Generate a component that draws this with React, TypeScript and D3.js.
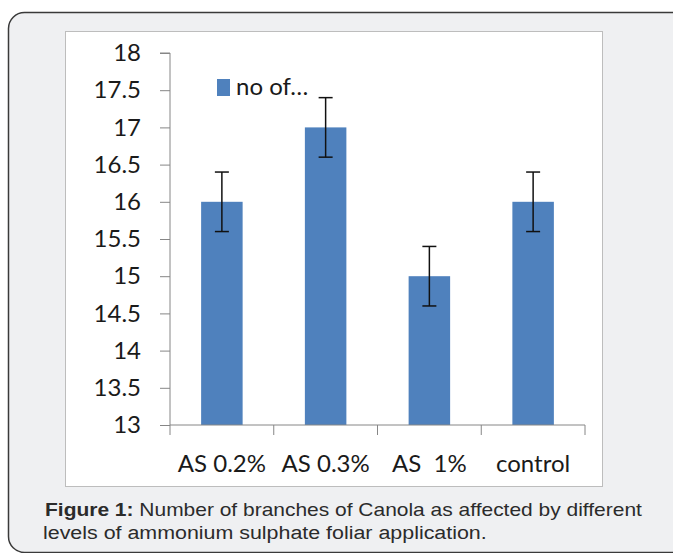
import { useEffect, useRef } from 'react';
import * as d3 from 'd3';

const WIDTH = 673;
const HEIGHT = 553;

const categories = ['AS 0.2%', 'AS 0.3%', 'AS  1%', 'control'];
const values = [16, 17, 15, 16];
const errors = [0.4, 0.4, 0.4, 0.4];
const yTicks = [13, 13.5, 14, 14.5, 15, 15.5, 16, 16.5, 17, 17.5, 18];
const seriesName = 'no of…';
const captionBold = 'Figure 1:';
const captionLine1 = ' Number of branches of Canola as affected by different';
const captionLine2 = 'levels of ammonium sulphate foliar application.';

const PLOT = { left: 170, right: 585, top: 53, bottom: 425 };
const FONT = 'Lato, "Open Sans", sans-serif';
const BAR = '#4f81bd';
const AXIS = '#868686';

export default function App() {
  const svgRef = useRef<SVGSVGElement>(null);

  useEffect(() => {
    const svg = d3.select(svgRef.current);
    svg.selectAll('*').remove();

    // outer panel and white chart box
    svg.append('rect')
      .attr('x', 8.5).attr('y', 12.5)
      .attr('width', 680).attr('height', 540)
      .attr('rx', 16)
      .attr('fill', '#eff0f2')
      .attr('stroke', '#3a3a3a')
      .attr('stroke-width', 1.5);

    svg.append('rect')
      .attr('x', 65.5).attr('y', 31.5)
      .attr('width', 537).attr('height', 455)
      .attr('fill', '#fff')
      .attr('stroke', '#bdbdbd');

    const x = d3.scaleBand()
      .domain(categories)
      .range([PLOT.left, PLOT.right])
      .paddingInner(0.6)
      .paddingOuter(0.3);

    const band = d3.scaleBand()
      .domain(categories)
      .range([PLOT.left, PLOT.right]);

    const y = d3.scaleLinear()
      .domain([13, 18])
      .range([PLOT.bottom, PLOT.top]);

    // y axis
    const yAxis = svg.append('g')
      .attr('transform', `translate(${PLOT.left},0)`)
      .call(d3.axisLeft(y).tickValues(yTicks).tickSize(10).tickPadding(19).tickFormat(d3.format('')));
    yAxis.selectAll('line').attr('stroke', AXIS);
    yAxis.select('.domain').attr('stroke', AXIS).attr('d', `M-10,${PLOT.top}H0V${PLOT.bottom}`);
    yAxis.selectAll('text')
      .attr('font-family', FONT)
      .attr('font-size', 24)
      .attr('fill', '#1a1a1a');

    // bars
    svg.append('g')
      .selectAll('rect')
      .data(values)
      .join('rect')
      .attr('x', (_, i) => x(categories[i]) || 0)
      .attr('y', (d) => y(d))
      .attr('width', x.bandwidth())
      .attr('height', (d) => y(13) - y(d))
      .attr('fill', BAR);

    // x axis
    const xAxisG = svg.append('g').attr('transform', `translate(0,${PLOT.bottom})`);
    xAxisG.append('line')
      .attr('x1', PLOT.left).attr('x2', PLOT.right)
      .attr('stroke', AXIS);
    const edges = categories.map((c) => band(c) || 0).concat([PLOT.right]);
    xAxisG.selectAll('line.tick')
      .data(edges)
      .join('line')
      .attr('class', 'tick')
      .attr('x1', (d) => d).attr('x2', (d) => d)
      .attr('y1', 0).attr('y2', 10)
      .attr('stroke', AXIS);
    xAxisG.selectAll('text')
      .data(categories)
      .join('text')
      .attr('x', (d) => (band(d) || 0) + band.bandwidth() / 2)
      .attr('y', 47)
      .attr('text-anchor', 'middle')
      .attr('font-family', FONT)
      .attr('font-size', 24)
      .attr('fill', '#1a1a1a')
      .style('white-space', 'pre')
      .text((d) => d);

    // error bars
    const err = svg.append('g').attr('stroke', '#111').attr('stroke-width', 1.5);
    values.forEach((v, i) => {
      const cx = (x(categories[i]) || 0) + x.bandwidth() / 2;
      err.append('line').attr('x1', cx).attr('x2', cx).attr('y1', y(v + errors[i])).attr('y2', y(v - errors[i]));
      [v + errors[i], v - errors[i]].forEach((e) => {
        err.append('line').attr('x1', cx - 7).attr('x2', cx + 7).attr('y1', y(e)).attr('y2', y(e));
      });
    });

    // legend
    svg.append('rect')
      .attr('x', 217).attr('y', 79)
      .attr('width', 13).attr('height', 17)
      .attr('fill', BAR);
    svg.append('text')
      .attr('x', 236).attr('y', 95)
      .attr('font-family', FONT)
      .attr('font-size', 24)
      .attr('fill', '#1a1a1a')
      .text(seriesName);

    // caption (reference type is a bit wider than Arial, so stretch horizontally)
    const cap = svg.append('g')
      .attr('font-family', '"Liberation Sans", Arial, sans-serif')
      .attr('font-size', 18)
      .attr('fill', '#2b2b2b');
    const t1 = cap.append('text')
      .attr('transform', 'translate(45,516) scale(1.165,1)');
    t1.append('tspan').attr('font-weight', 'bold').text(captionBold);
    t1.append('tspan').style('white-space', 'pre').text(captionLine1);
    cap.append('text')
      .attr('transform', 'translate(43,539) scale(1.19,1)')
      .text(captionLine2);
  }, []);

  return (
    <svg
      ref={svgRef}
      width={WIDTH}
      height={HEIGHT}
      style={{ position: 'absolute', left: 0, top: 0, background: '#fff' }}
    />
  );
}
